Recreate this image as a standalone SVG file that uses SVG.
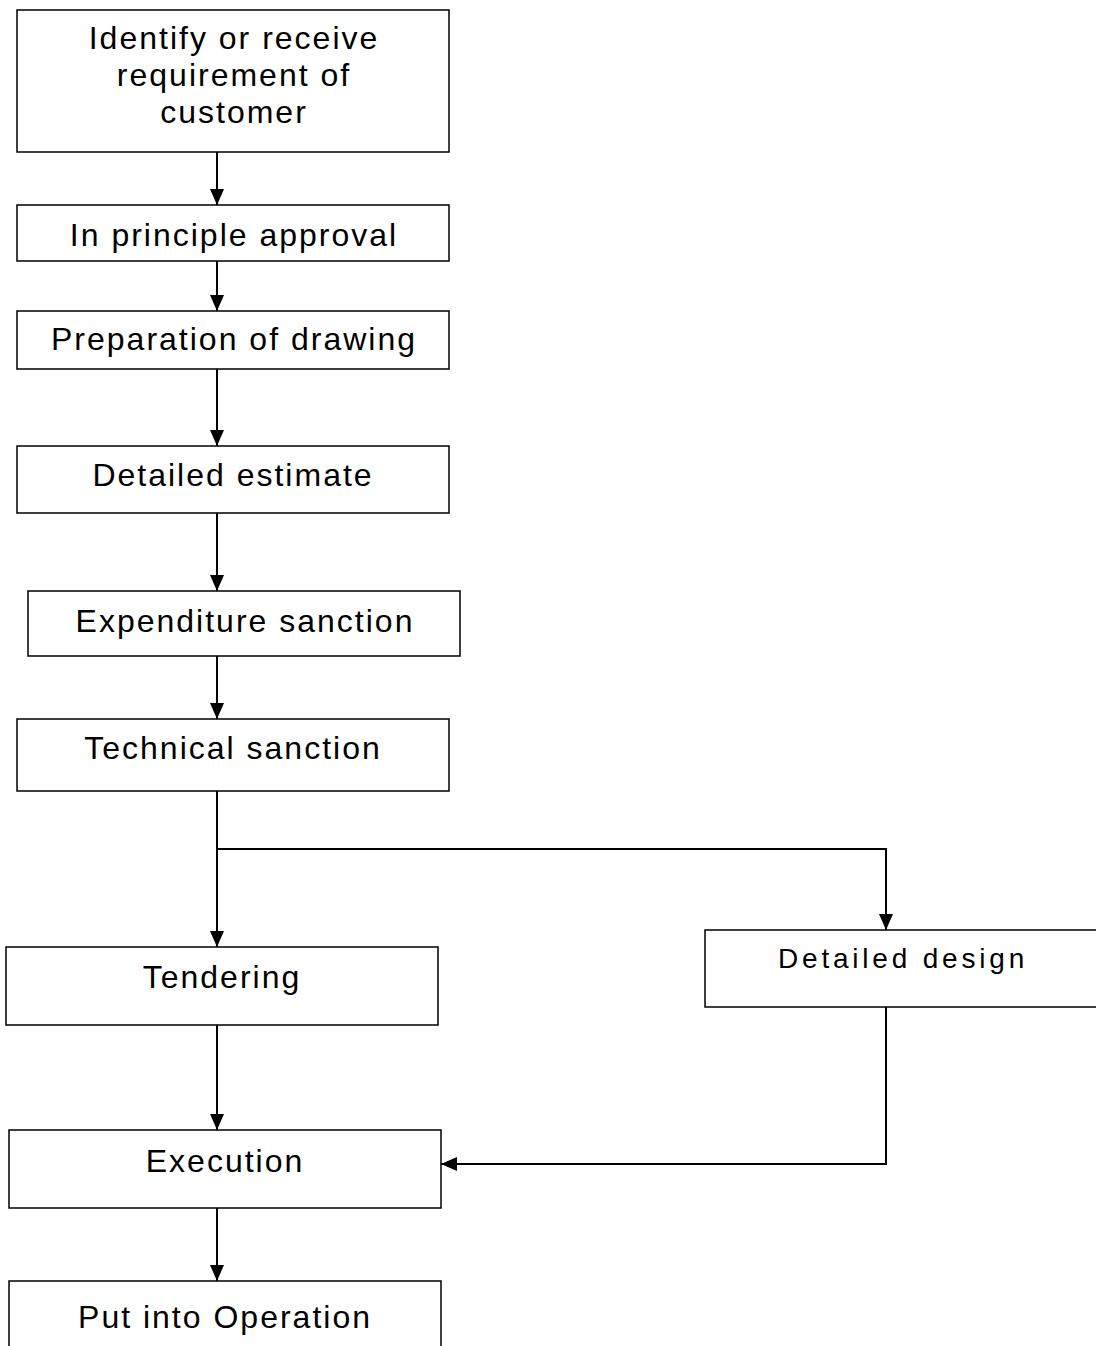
<svg xmlns="http://www.w3.org/2000/svg" width="1096" height="1346" viewBox="0 0 1096 1346">
<style>
.box{fill:#fff;stroke:#000;stroke-width:1.5}
.t{font-family:"Liberation Sans",Arial,sans-serif;font-size:32px;letter-spacing:2px;text-anchor:middle;fill:#000}
.s{font-size:28px;letter-spacing:3.8px}
.c{fill:none;stroke:#000;stroke-width:2}
</style>
<defs>
<marker id="ah" markerUnits="userSpaceOnUse" markerWidth="16" markerHeight="14" refX="16" refY="7" orient="auto">
<path d="M0,0 L16,7 L0,14 Z" fill="#000"/>
</marker>
</defs>
<rect width="1096" height="1346" fill="#fff"/>
<g id="connectors">
<path class="c" d="M217,152 V205" marker-end="url(#ah)"/>
<path class="c" d="M217,261 V311" marker-end="url(#ah)"/>
<path class="c" d="M217,369 V446" marker-end="url(#ah)"/>
<path class="c" d="M217,513 V591" marker-end="url(#ah)"/>
<path class="c" d="M217,656 V719" marker-end="url(#ah)"/>
<path class="c" d="M217,791 V947" marker-end="url(#ah)"/>
<path class="c" d="M217,849 H886 V930" marker-end="url(#ah)"/>
<path class="c" d="M217,1025 V1130" marker-end="url(#ah)"/>
<path class="c" d="M886,1007 V1164 H441" marker-end="url(#ah)"/>
<path class="c" d="M217,1208 V1281" marker-end="url(#ah)"/>
</g>
<g id="n1"><rect class="box" x="17" y="10" width="432" height="142"/>
<text class="t" x="234" y="49">Identify or receive</text>
<text class="t" x="234" y="86">requirement of</text>
<text class="t" x="234" y="123">customer</text></g>
<g id="n2"><rect class="box" x="17" y="205" width="432" height="56"/><text class="t" x="234" y="246">In principle approval</text></g>
<g id="n3"><rect class="box" x="17" y="311" width="432" height="58"/><text class="t" x="234" y="350">Preparation of drawing</text></g>
<g id="n4"><rect class="box" x="17" y="446" width="432" height="67"/><text class="t" x="233" y="486">Detailed estimate</text></g>
<g id="n5"><rect class="box" x="28" y="591" width="432" height="65"/><text class="t" x="245" y="632">Expenditure sanction</text></g>
<g id="n6"><rect class="box" x="17" y="719" width="432" height="72"/><text class="t" x="233" y="759">Technical sanction</text></g>
<g id="n7"><rect class="box" x="6" y="947" width="432" height="78"/><text class="t" x="222" y="988">Tendering</text></g>
<g id="n8"><rect class="box" x="705" y="930" width="400" height="77"/><text class="t s" x="903" y="968">Detailed design</text></g>
<g id="n9"><rect class="box" x="9" y="1130" width="432" height="78"/><text class="t" x="225" y="1172">Execution</text></g>
<g id="n10"><rect class="box" x="9" y="1281" width="432" height="80"/><text class="t" x="225" y="1328">Put into Operation</text></g>
</svg>
